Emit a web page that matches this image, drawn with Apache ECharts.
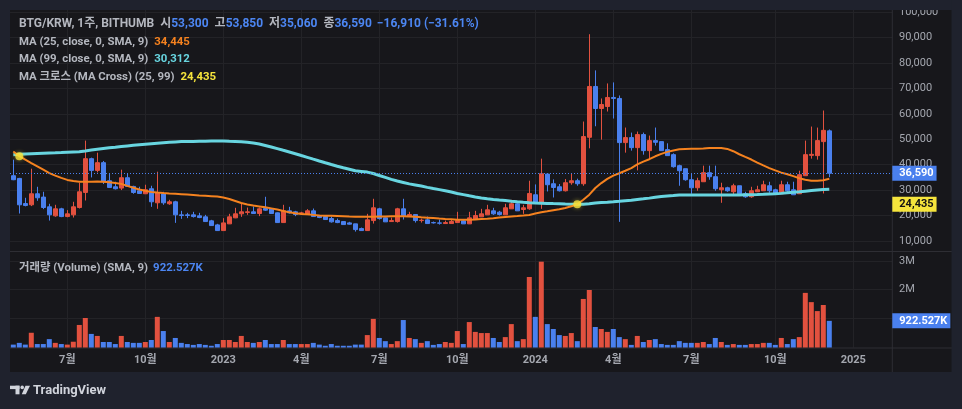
<!DOCTYPE html>
<html><head><meta charset="utf-8">
<script src="https://cdn.jsdelivr.net/npm/echarts@6/dist/echarts.min.js"></script>
<style>html,body{margin:0;padding:0;background:#1f222d;}#c{width:962px;height:409px;}</style>
</head><body><div id="c"></div>
<script>
// weekly bars, first bar = week of 2022-05-02
const tickBars = [9, 22, 35, 48, 61, 74, 87, 100, 113, 127, 140];
const tickLabels = ['7월', '10월', '2023', '4월', '7월', '10월', '2024', '4월', '7월', '10월', '2025'];
const priceTicks = [10000, 20000, 30000, 40000, 50000, 60000, 70000, 80000, 90000, 100000];
const volumeTicks = [1000000, 2000000, 3000000];
const volumeLabelTicks = [2000000, 3000000];

const opens = [35650,34580,24700,24200,28540,27240,23410,19860,22620,19580,
20250,23140,29060,42360,37750,40780,33680,31300,30790,34860,
31430,29730,28540,30520,24990,28540,24600,25390,20250,20250,
20250,19860,19460,17890,16300,14060,16700,19070,20650,21200,
21440,20770,22740,22620,21040,17210,21830,21440,20900,20370,
21830,19860,19580,18790,18000,17610,17090,16700,14840,14060,
18000,22620,19070,17610,17610,22620,19740,20370,18000,18280,
17210,17090,16820,16820,17210,17890,16700,18400,19460,20250,
21830,21320,20250,22620,24600,22350,22620,28150,24990,36300,
32490,31300,29730,32890,33680,32490,50770,70770,62100,62890,
66440,66050,48680,50650,46700,51840,45520,49470,49070,45920,
43940,39600,38410,34070,30910,33280,36830,35260,30120,30910,
29330,31700,28540,27360,29330,29730,31700,30120,28540,32100,
30120,28540,35650,43660,43550,49070,53300];
const highs = [41970,34800,26960,38410,31300,29330,24600,24200,23020,22100,
25390,32890,49470,42760,44730,41450,36440,33280,38020,36440,
31700,31310,32100,31700,37230,29330,26180,25780,21830,21040,
21440,21040,20250,18280,16700,18950,20650,23020,24600,23130,
23530,23130,27360,22740,21200,24200,23410,21830,21440,22500,
22740,20250,19580,19580,18790,17610,17490,16700,15240,20650,
26570,23020,19190,19190,23020,26570,21440,20370,18790,19580,
17610,18400,18000,18400,21440,18400,21440,21830,22620,24200,
23020,21830,24600,26180,24990,24200,33680,32220,42360,36300,
34200,32400,34350,36320,34470,56970,91330,77100,66050,71970,
72370,67230,54600,52620,53020,52620,51440,54600,49070,48400,
44450,39990,38410,36440,34860,39600,39600,39600,32890,31310,
32500,31700,29330,31300,31700,33680,33280,30520,33680,33280,
33280,37620,49470,55000,54600,61310,53850];
const lows = [33900,20770,23600,23700,25780,22500,18000,19500,19340,19300,
19190,22740,25900,34980,36950,32370,31030,30240,30000,31430,
28540,28540,28540,23410,22620,24200,24200,17090,18670,18950,
19190,18950,17490,15910,13940,13940,16700,18950,19460,20250,
20770,19740,21830,20770,17210,17210,20770,19740,20370,20370,
19580,18950,18400,17210,16980,16420,16420,13660,14060,14060,
16820,18400,17490,17610,17210,18400,19580,17210,17210,16820,
16820,16420,16820,16820,17210,16700,16700,18400,19460,20250,
20250,19980,20250,22620,21830,20650,22230,24600,22620,29450,
27080,29450,29450,32100,31700,31700,46430,55110,49860,60920,
58150,17490,44730,45520,37740,43940,42360,47500,45520,43550,
38810,31700,33680,28540,29730,33280,34070,29730,24990,29330,
27750,28540,26960,26960,29330,29730,28940,28150,28540,29330,
28150,28540,35650,42360,41970,28660,35060];
const closes = [34070,24200,23930,28540,26960,23140,20250,22620,19580,20650,
23410,29330,42360,37750,40780,33280,31030,30520,34860,31430,
29060,28660,30120,25390,28940,24990,25390,20250,19980,20000,
19580,19190,17610,16030,14060,17090,19460,20650,21440,21440,
20770,22620,22100,20770,17210,21830,21040,20370,21000,21830,
19580,19190,18400,17490,17210,16420,16580,14450,14060,18280,
23020,18790,17490,18000,22620,19740,20370,18000,18150,16820,
17100,16950,17210,17610,18000,16700,19070,19980,20650,22230,
20650,20370,23020,24600,21830,23020,28660,24990,36440,32100,
31030,29730,32890,33680,32490,51050,70770,62100,63680,66440,
66050,48680,50650,46700,51840,45520,49470,48800,45520,43550,
39200,37620,34070,30910,33680,36830,35260,30520,30910,29730,
31700,28540,27360,29730,30120,32100,29730,28540,32100,29730,
28150,36050,43940,44060,49470,53500,36590];
const volumes = [100000,160000,100000,510000,120000,120000,290000,160000,120000,100000,
200000,780000,1020000,470000,400000,190000,190000,120000,400000,190000,
160000,160000,190000,260000,1060000,570000,190000,330000,160000,120000,
90000,120000,90000,60000,120000,260000,260000,190000,400000,190000,
160000,190000,260000,120000,120000,260000,120000,120000,120000,120000,
160000,100000,60000,120000,60000,60000,60000,100000,100000,430000,
990000,330000,220000,120000,220000,950000,330000,290000,160000,220000,
90000,120000,190000,160000,570000,120000,880000,540000,500000,500000,
330000,190000,360000,810000,220000,290000,2440000,1060000,2970000,810000,
640000,430000,400000,500000,220000,1680000,1990000,710000,640000,540000,
640000,360000,290000,90000,400000,190000,260000,290000,120000,90000,
90000,220000,160000,160000,160000,190000,120000,330000,190000,90000,
120000,90000,90000,120000,120000,160000,160000,90000,330000,120000,
290000,360000,1890000,1570000,1260000,1470000,922527];
const ma25 = [45200,43350,41950,40600,39300,38000,36700,35700,34800,34000,
33550,33300,33280,33300,33370,33270,33040,32800,32440,31660,
30920,30200,29700,29280,29040,28850,28680,28540,28400,28230,
28060,27890,27750,27600,27430,27060,26500,25700,24900,24350,
23900,23570,23200,22800,22330,21800,21230,20890,20610,20450,
20240,20000,19920,19850,19770,19690,19590,19520,19460,19460,
19500,19570,19640,19700,19730,19710,19630,19480,19300,19150,
18980,18810,18660,18530,18360,18290,18280,18420,18580,18720,
18920,19160,19400,19620,19780,19950,20220,20750,21240,21630,
22050,22450,22950,23600,24435,26200,28200,30800,32750,34400,
35700,36620,37600,38660,40100,41200,42140,43300,44260,45040,
45600,46050,46200,46310,46310,46400,46570,46590,46550,46200,
45300,44100,43050,42020,40800,39700,38650,37730,36880,36220,
35470,34670,34100,33680,33680,33900,34445];
const ma99 = [43900,44050,44200,44330,44420,44500,44580,44660,44750,44870,
44990,45110,45410,45730,46050,46340,46620,46880,47150,47390,
47630,47860,48060,48260,48460,48640,48800,48950,49080,49110,
49150,49190,49230,49280,49330,49330,49230,49150,49050,48800,
48500,48130,47560,46960,46320,45650,45000,44310,43590,42880,
42160,41450,40750,40060,39400,38780,38190,37600,37340,37070,
36520,35740,34970,34190,33560,33000,32430,32010,31570,31060,
30590,30170,29730,29220,28670,28210,27740,27310,26890,26600,
26320,26080,25850,25610,25380,25180,25020,24930,24860,24760,
24680,24610,24520,24460,24400,24430,24600,24880,25080,25250,
25430,25620,25820,26020,26300,26560,26830,27150,27430,27640,
27830,28030,28060,28080,28100,28090,28070,28050,28040,28060,
28080,28100,28150,28200,28250,28330,28460,28560,28700,28900,
29100,29320,29560,29800,30000,30180,30312];
const crossBars = [1, 94];
const crossValues = [43350, 24435];

const UP = '#e2513f', DOWN = '#4a80ee';
const ORANGE = '#f5821f', CYAN = '#68d5e0', YELLOW = '#f5e43c';
const GRAY = '#b4b7bf', AXIS = '#a4a7af', GRID = '#232327', SEP = '#2e2e34';
const FONT = "Roboto, 'Noto Sans CJK KR', sans-serif";

const last = closes.length - 1;
const fmt = v => Math.round(v).toLocaleString('en-US');
const chg = closes[last] - closes[last - 1];
const pct = chg / closes[last - 1] * 100;
const sg = chg < 0 ? '−' : '+';

const candleData = opens.map((o, i) => [i, o, closes[i], lows[i], highs[i]]);
const volData = volumes.map((v, i) => ({ value: [i, v], itemStyle: { color: closes[i] >= opens[i] ? UP : DOWN } }));
const ma25Data = ma25.map((v, i) => [i, v]);
const ma99Data = ma99.map((v, i) => [i, v]);
const crossData = crossBars.map((b, k) => [b, crossValues[k]]);

const seg = (color, pad, fs) => ({ color, fontSize: fs, fontFamily: FONT, lineHeight: 16, padding: [0, 0, 0, pad] });
const makeRich = fs => ({
  g: seg(GRAY, 0, fs), k: seg(GRAY, 6, fs), b: seg('#4c86f2', 0, fs), b2: seg('#4c86f2', 5, fs),
  o: seg(ORANGE, 6, fs), c: seg(CYAN, 6, fs), y: seg(YELLOW, 6, fs), v: seg('#4c86f2', 5, fs)
});
const rich12 = makeRich(12), rich11 = makeRich(11.4);

const xFormatter = v => { const k = tickBars.indexOf(Math.round(v)); return k >= 0 ? tickLabels[k] : ''; };
const badge = (bg, fg) => ({
  show: true, position: 'end', distance: 0, color: fg, backgroundColor: bg,
  padding: [2, 3, 2, 7], fontSize: 11, lineHeight: 11, fontFamily: FONT, fontWeight: 'bold'
});
const HIDDEN_LINE = { color: 'rgba(0,0,0,0)', width: 0 };

const chart = echarts.init(document.getElementById('c'), null, { renderer: 'canvas' });
chart.setOption({
  animation: false,
  backgroundColor: '#17171b',
  title: [
    { left: 19, top: 15.7, padding: 0, text:
      `{g|BTG/KRW, 1주, BITHUMB}{k|시}{b|${fmt(opens[last])}}{k|고}{b|${fmt(highs[last])}}{k|저}{b|${fmt(lows[last])}}{k|종}{b|${fmt(closes[last])}}{b2|${sg}${fmt(Math.abs(chg))} (${sg}${Math.abs(pct).toFixed(2)}%)}`,
      textStyle: { rich: rich12 } },
    { left: 19, top: 33.7, padding: 0, text: `{g|MA (25, close, 0, SMA, 9)}{o|${fmt(ma25[last])}}`, textStyle: { rich: rich11 } },
    { left: 19, top: 51.5, padding: 0, text: `{g|MA (99, close, 0, SMA, 9)}{c|${fmt(ma99[last])}}`, textStyle: { rich: rich11 } },
    { left: 19, top: 69.2, padding: 0, text: `{g|MA 크로스 (MA Cross) (25, 99)}{y|${fmt(crossValues[crossValues.length - 1])}}`, textStyle: { rich: rich11 } },
    { left: 19, top: 259.7, padding: 0, text: `{g|거래량 (Volume) (SMA, 9)}{v|${(volumes[last] / 1000).toFixed(3)}K}`, textStyle: { rich: rich11 } }
  ],
  grid: [
    { left: 10, top: 10, width: 882.3, height: 241.5 },
    { left: 10, top: 251.5, width: 882.3, height: 96 }
  ],
  xAxis: [
    { type: 'value', gridIndex: 0, min: -0.55, max: 146.5,
      axisLabel: { show: false }, axisLine: { show: false },
      axisTick: { show: false, customValues: tickBars },
      splitLine: { show: true, lineStyle: { color: GRID, width: 1 } } },
    { type: 'value', gridIndex: 1, min: -0.55, max: 146.5,
      axisLine: { show: false },
      axisTick: { show: false, customValues: tickBars },
      axisLabel: { customValues: tickBars, formatter: xFormatter, color: AXIS, fontSize: 11, fontWeight: 'bold', fontFamily: FONT, margin: 7 },
      splitLine: { show: true, lineStyle: { color: GRID, width: 1 } } }
  ],
  yAxis: [
    { type: 'value', gridIndex: 0, position: 'right', min: 5825, max: 100866,
      axisLine: { show: false },
      axisTick: { show: false, customValues: priceTicks },
      axisLabel: { customValues: priceTicks, formatter: v => fmt(v), color: AXIS, fontSize: 11, fontFamily: FONT, align: 'left', margin: 6.7, padding: [0, 0, 3, 0] },
      splitLine: { show: true, lineStyle: { color: GRID, width: 1 } } },
    { type: 'value', gridIndex: 1, position: 'right', min: 0, max: 3322000,
      axisLine: { show: false },
      axisTick: { show: false, customValues: volumeTicks },
      axisLabel: { customValues: volumeLabelTicks, formatter: v => (v / 1000000) + 'M', color: AXIS, fontSize: 11, fontFamily: FONT, align: 'left', margin: 6.7, padding: [0, 0, 1, 0] },
      splitLine: { show: true, lineStyle: { color: GRID, width: 1 } } }
  ],
  series: [
    { type: 'bar', xAxisIndex: 1, yAxisIndex: 1, data: volData, barWidth: 5,
      markLine: { silent: true, symbol: ['none', 'none'], lineStyle: HIDDEN_LINE,
        label: Object.assign(badge('#4a80ee', '#ffffff'), { formatter: (volumes[last] / 1000).toFixed(3) + 'K' }),
        data: [{ yAxis: volumes[last] }] } },
    { type: 'candlestick', xAxisIndex: 0, yAxisIndex: 0, data: candleData, barWidth: 4,
      itemStyle: { color: UP, color0: DOWN, borderColor: UP, borderColor0: DOWN, borderWidth: 1 },
      markLine: { silent: true, symbol: ['none', 'none'], lineStyle: { color: '#4a80ee', type: [1, 2], width: 1 },
        label: Object.assign(badge('#4a80ee', '#ffffff'), { formatter: fmt(closes[last]) }),
        data: [{ yAxis: closes[last] }] } },
    { type: 'line', xAxisIndex: 0, yAxisIndex: 0, data: ma99Data, showSymbol: false, lineStyle: { color: CYAN, width: 3 }, z: 3 },
    { type: 'line', xAxisIndex: 0, yAxisIndex: 0, data: ma25Data, showSymbol: false, lineStyle: { color: ORANGE, width: 2 }, z: 4 },
    { type: 'scatter', xAxisIndex: 0, yAxisIndex: 0, data: crossData, symbolSize: 8,
      itemStyle: { color: YELLOW, shadowColor: 'rgba(245,228,60,0.6)', shadowBlur: 4 }, z: 5,
      markLine: { silent: true, symbol: ['none', 'none'], lineStyle: HIDDEN_LINE,
        label: Object.assign(badge(YELLOW, '#131313'), { formatter: fmt(crossValues[crossValues.length - 1]) }),
        data: [{ yAxis: crossValues[crossValues.length - 1] }] } }
  ],
  graphic: [
    { type: 'line', z: 1, shape: { x1: 892.3, y1: 10, x2: 892.3, y2: 372 }, style: { stroke: SEP, lineWidth: 1 } },
    { type: 'line', z: 1, shape: { x1: 10, y1: 251.5, x2: 952, y2: 251.5 }, style: { stroke: SEP, lineWidth: 1 } },
    { type: 'line', z: 1, shape: { x1: 10, y1: 348, x2: 952, y2: 348 }, style: { stroke: SEP, lineWidth: 1 } },
    { type: 'rect', z: 100, shape: { x: 0, y: 0, width: 962, height: 10 }, style: { fill: '#1f222d' } },
    { type: 'rect', z: 100, shape: { x: 0, y: 0, width: 10, height: 409 }, style: { fill: '#1f222d' } },
    { type: 'rect', z: 100, shape: { x: 951.5, y: 0, width: 11, height: 409 }, style: { fill: '#1f222d' } },
    { type: 'rect', z: 100, shape: { x: 0, y: 372, width: 962, height: 37 }, style: { fill: '#1f222d' } },
    { type: 'rect', z: 101, shape: { x: 10, y: 385.7, width: 9.5, height: 3.4 }, style: { fill: '#d1d4dc' } },
    { type: 'rect', z: 101, shape: { x: 15.5, y: 385.7, width: 4, height: 8.6 }, style: { fill: '#d1d4dc' } },
    { type: 'circle', z: 101, shape: { cx: 22.2, cy: 387.4, r: 1.8 }, style: { fill: '#d1d4dc' } },
    { type: 'polygon', z: 101, shape: { points: [[25.5, 385.7], [30, 385.7], [25.8, 394.3], [21.8, 394.3]] }, style: { fill: '#d1d4dc' } },
    { type: 'text', z: 101, style: { x: 33, y: 390.5, text: 'TradingView', fill: '#d1d4dc', font: "bold 13px Roboto, sans-serif", verticalAlign: 'middle' } }
  ]
});
</script>
</body></html>
